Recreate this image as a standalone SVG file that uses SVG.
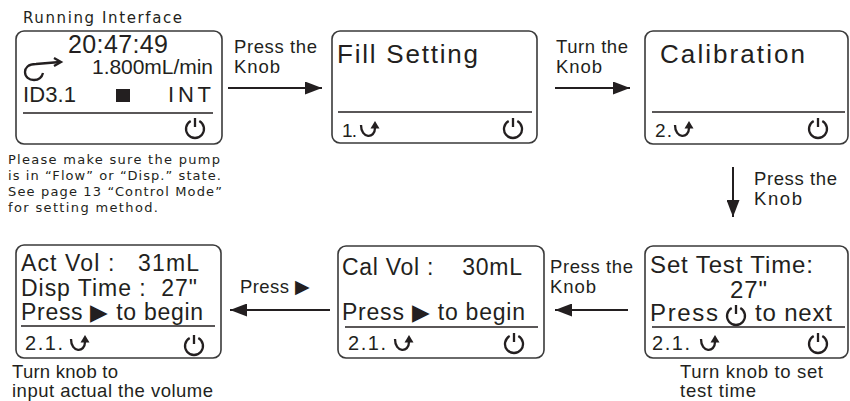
<svg xmlns="http://www.w3.org/2000/svg" xmlns:xlink="http://www.w3.org/1999/xlink" width="850" height="401" viewBox="0 0 850 401">
<style>
.box{fill:none;stroke:#3a3a3a;stroke-width:1.6}
.t{font-family:"Liberation Sans",Arial,sans-serif;fill:#231f20}
.sep{stroke:#231f20;stroke-width:1.4}
.lbl{font-family:"Liberation Sans",Arial,sans-serif;font-size:18.5px;fill:#231f20}
.note{font-family:"DejaVu Sans",Verdana,sans-serif;font-size:13px;fill:#231f20}
.title{font-family:"DejaVu Sans",Verdana,sans-serif;font-size:15px;fill:#231f20}
.ic{fill:none;stroke:#231f20;stroke-width:2.3}
.conn line{stroke:#231f20;stroke-width:2}
</style>
<defs>
<marker id="ah" markerUnits="userSpaceOnUse" markerWidth="17" markerHeight="13" refX="17" refY="6.5" orient="auto">
<path d="M0,0 L17,6.5 L0,13 z" fill="#231f20"/>
</marker>
<g id="pwr">
<path class="ic" d="M4.3,-7.9 A9,9 0 1 1 -4.3,-7.9"/>
<line class="ic" x1="0" y1="-11" x2="0" y2="-2"/>
</g>
<g id="turn">
<path class="ic" d="M0,1 C0,15 14,15 14,4"/>
<path d="M14,-3 L18.5,4.5 L9.5,4.5 z" fill="#231f20"/>
</g>
</defs>

<text class="title" x="23" y="23" textLength="159" lengthAdjust="spacing">Running Interface</text>

<g id="running">
<rect class="box" x="16" y="31" width="206" height="113" rx="8"/>
<text class="t" x="68" y="53" font-size="25" textLength="100" lengthAdjust="spacing">20:47:49</text>
<path class="ic" stroke-width="1.6" d="M60,62 L36,64 C28,64 25,68 25,72 C25,77 29,80 34,80 C39,80 42,77 43,73"/>
<path class="ic" stroke-width="1.6" d="M54,58 L61,62 L54,66"/>
<text class="t" x="92" y="74" font-size="21" textLength="121" lengthAdjust="spacing">1.800mL/min</text>
<text class="t" x="23" y="102" font-size="22" textLength="53" lengthAdjust="spacing">ID3.1</text>
<rect x="116" y="89" width="14" height="13" fill="#231f20"/>
<text class="t" x="168" y="102" font-size="22" textLength="43" lengthAdjust="spacing">INT</text>
<line class="sep" x1="23" y1="113" x2="213" y2="113" stroke-width="2.2"/>
<use xlink:href="#pwr" x="195" y="129"/>
</g>

<g id="note">
<text class="note" x="8" y="164" textLength="212" lengthAdjust="spacing">Please make sure the pump</text>
<text class="note" x="8" y="180" textLength="213" lengthAdjust="spacing">is in “Flow” or “Disp.” state.</text>
<text class="note" x="8" y="196" textLength="214" lengthAdjust="spacing">See page 13 “Control Mode”</text>
<text class="note" x="8" y="212" textLength="150" lengthAdjust="spacing">for setting method.</text>
</g>

<g id="fill">
<rect class="box" x="332" y="31" width="205" height="112" rx="8"/>
<text class="t" x="337" y="63" font-size="26" textLength="141" lengthAdjust="spacing">Fill Setting</text>
<line class="sep" x1="338" y1="112" x2="532" y2="112"/>
<text class="t" x="342" y="137" font-size="19" textLength="15" lengthAdjust="spacing">1.</text>
<use xlink:href="#turn" x="361" y="124"/>
<use xlink:href="#pwr" x="513" y="129"/>
</g>

<g id="calibration">
<rect class="box" x="645" y="31" width="203" height="113" rx="8"/>
<text class="t" x="660" y="63" font-size="26" textLength="145" lengthAdjust="spacing">Calibration</text>
<line class="sep" x1="652" y1="112" x2="845" y2="112"/>
<text class="t" x="655" y="137" font-size="19" textLength="17" lengthAdjust="spacing">2.</text>
<use xlink:href="#turn" x="675" y="124"/>
<use xlink:href="#pwr" x="818" y="129"/>
</g>

<g id="actvol">
<rect class="box" x="16" y="245" width="205" height="113" rx="8"/>
<text class="t" x="21" y="271" font-size="23" textLength="178" lengthAdjust="spacing" xml:space="preserve">Act Vol :   31mL</text>
<text class="t" x="21" y="296" font-size="23" textLength="176" lengthAdjust="spacing" xml:space="preserve">Disp Time :  27"</text>
<text class="t" x="21" y="320" font-size="23" textLength="182" lengthAdjust="spacing">Press ▶ to begin</text>
<line class="sep" x1="21" y1="326" x2="215" y2="326"/>
<text class="t" x="25" y="350" font-size="20" textLength="38" lengthAdjust="spacing">2.1.</text>
<use xlink:href="#turn" x="71" y="338"/>
<use xlink:href="#pwr" x="194" y="346"/>
</g>
<text class="lbl" x="12" y="378" textLength="106" lengthAdjust="spacing">Turn knob to</text>
<text class="lbl" x="12" y="397" textLength="201" lengthAdjust="spacing">input actual the volume</text>

<g id="calvol">
<rect class="box" x="338" y="246" width="206" height="112" rx="8"/>
<text class="t" x="342" y="275" font-size="23" textLength="180" lengthAdjust="spacing" xml:space="preserve">Cal Vol :    30mL</text>
<text class="t" x="342" y="320" font-size="23" textLength="183" lengthAdjust="spacing">Press ▶ to begin</text>
<line class="sep" x1="345" y1="327" x2="538" y2="327"/>
<text class="t" x="348" y="350" font-size="20" textLength="38" lengthAdjust="spacing">2.1.</text>
<use xlink:href="#turn" x="395" y="338"/>
<use xlink:href="#pwr" x="514" y="344"/>
</g>

<g id="settest">
<rect class="box" x="645" y="246" width="203" height="112" rx="8"/>
<text class="t" x="650" y="273" font-size="24" textLength="163" lengthAdjust="spacing">Set Test Time:</text>
<text class="t" x="730" y="298" font-size="24" textLength="37" lengthAdjust="spacing">27"</text>
<text class="t" x="650" y="321" font-size="24" textLength="68" lengthAdjust="spacing">Press</text>
<use xlink:href="#pwr" x="736" y="316"/>
<text class="t" x="755" y="321" font-size="24" textLength="77" lengthAdjust="spacing">to next</text>
<line class="sep" x1="652" y1="327" x2="845" y2="327"/>
<text class="t" x="652" y="350" font-size="20" textLength="38" lengthAdjust="spacing">2.1.</text>
<use xlink:href="#turn" x="701" y="338"/>
<use xlink:href="#pwr" x="818" y="344"/>
</g>
<text class="lbl" x="680" y="378" textLength="143" lengthAdjust="spacing">Turn knob to set</text>
<text class="lbl" x="680" y="397" textLength="76" lengthAdjust="spacing">test time</text>

<g id="connectors" class="conn">
<line x1="228" y1="88" x2="322" y2="88" marker-end="url(#ah)"/>
<line x1="555" y1="88" x2="630" y2="88" marker-end="url(#ah)"/>
<line x1="733" y1="167" x2="733" y2="217" marker-end="url(#ah)"/>
<line x1="628" y1="310" x2="555" y2="310" marker-end="url(#ah)"/>
<line x1="330" y1="310" x2="230" y2="310" marker-end="url(#ah)"/>
</g>
<g id="labels">
<text class="lbl" x="234" y="53" textLength="83" lengthAdjust="spacing">Press the</text>
<text class="lbl" x="234" y="73" textLength="46" lengthAdjust="spacing">Knob</text>
<text class="lbl" x="556" y="53" textLength="72" lengthAdjust="spacing">Turn the</text>
<text class="lbl" x="556" y="73" textLength="46" lengthAdjust="spacing">Knob</text>
<text class="lbl" x="754" y="185" textLength="83" lengthAdjust="spacing">Press the</text>
<text class="lbl" x="754" y="205" textLength="48" lengthAdjust="spacing">Knob</text>
<text class="lbl" x="550" y="273" textLength="83" lengthAdjust="spacing">Press the</text>
<text class="lbl" x="550" y="293" textLength="46" lengthAdjust="spacing">Knob</text>
<text class="lbl" x="240" y="293" textLength="70" lengthAdjust="spacing">Press ▶</text>
</g>
</svg>
